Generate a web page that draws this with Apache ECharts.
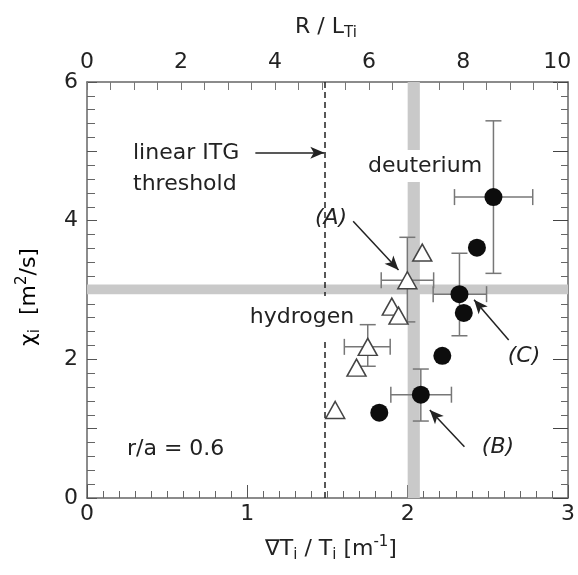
<!DOCTYPE html>
<html>
<head>
<meta charset="utf-8">
<script src="https://cdn.jsdelivr.net/npm/echarts@6.0.0/dist/echarts.min.js"></script>
<style>
  html, body { margin: 0; padding: 0; background: #fff; }
  #chart { width: 578px; height: 575px; }
</style>
</head>
<body>
<div id="chart"></div>
<script>
// deuterium (filled circles)
const deutX = [2.535, 2.432, 2.323, 2.35, 2.216, 2.082, 1.823];
const deutY = [4.34, 3.61, 2.94, 2.67, 2.05, 1.49, 1.23];
const deutXLo = [2.292, null, 2.159, null, null, 1.895, null];
const deutXHi = [2.780, null, 2.492, null, null, 2.273, null];
const deutYLo = [3.24, null, 2.34, null, null, 1.11, null];
const deutYHi = [5.44, null, 3.53, null, null, 1.86, null];

// hydrogen (open triangles)
const hydX = [1.998, 2.091, 1.901, 1.943, 1.751, 1.681, 1.548];
const hydY = [3.14, 3.54, 2.76, 2.63, 2.18, 1.88, 1.27];
const hydXLo = [1.835, null, null, null, 1.605, null, null];
const hydXHi = [2.162, null, null, null, 1.891, null, null];
const hydYLo = [2.54, null, null, null, 1.90, null, null];
const hydYHi = [3.76, null, null, null, 2.50, null, null];

// reference lines / bands
const itgThreshold = 1.48;
const bandX = [2.0, 2.076];
const bandY = [2.94, 3.08];

// annotation arrows [from, to] in data units
const arrowITG = [[1.05, 4.98], [1.48, 4.98]];
const arrowA = [[1.66, 3.99], [1.943, 3.29]];
const arrowB = [[2.354, 0.74], [2.138, 1.27]];
const arrowC = [[2.63, 2.28], [2.414, 2.86]];

const FONT = '"DejaVu Sans", sans-serif';
const TXT = '#222';
const AXC = '#666';

var chart = echarts.init(document.getElementById('chart'));

function errData(xs, ys, xlo, xhi, ylo, yhi) {
  return xs.map(function(x, i) {
    return [x, ys[i], xlo[i] == null ? x : xlo[i], xhi[i] == null ? x : xhi[i],
      ylo[i] == null ? ys[i] : ylo[i], yhi[i] == null ? ys[i] : yhi[i]]
  })
}

function renderErr(params, api) {
  var y = api.value(1), x = api.value(0)
  var cap = 8
  var st = { stroke: '#777', lineWidth: 1.5, fill: null }
  var kids = []
  if (api.value(2) !== api.value(3)) {
    var a = api.coord([api.value(2), y]), b = api.coord([api.value(3), y])
    kids.push({ type: 'line', shape: { x1: a[0], y1: a[1], x2: b[0], y2: b[1] }, style: st })
    kids.push({ type: 'line', shape: { x1: a[0], y1: a[1] - cap, x2: a[0], y2: a[1] + cap }, style: st })
    kids.push({ type: 'line', shape: { x1: b[0], y1: b[1] - cap, x2: b[0], y2: b[1] + cap }, style: st })
  }
  if (api.value(4) !== api.value(5)) {
    var c = api.coord([x, api.value(4)]), d = api.coord([x, api.value(5)])
    kids.push({ type: 'line', shape: { x1: c[0], y1: c[1], x2: d[0], y2: d[1] }, style: st })
    kids.push({ type: 'line', shape: { x1: c[0] - cap, y1: c[1], x2: c[0] + cap, y2: c[1] }, style: st })
    kids.push({ type: 'line', shape: { x1: d[0] - cap, y1: d[1], x2: d[0] + cap, y2: d[1] }, style: st })
  }
  return { type: 'group', children: kids }
}

function arrowLine(p) {
  return [{ coord: p[0], symbol: 'none' }, { coord: p[1], symbol: 'arrow' }]
}

function txt(x, y, text, extra) {
  var style = Object.assign({
    text: text, x: 0, y: 0, font: '22px ' + FONT, fill: TXT,
    textAlign: 'left', align: 'left', textVerticalAlign: 'middle', verticalAlign: 'middle'
  }, extra || {})
  return { type: 'text', x: x, y: y, z: 100, silent: true, style: style }
}

var tickLabel = { fontSize: 22, color: TXT, fontFamily: FONT }
var axLine = { show: true, onZero: false, lineStyle: { color: AXC, width: 1.5 } }

var subRich = {
  m: { fontSize: 22, fontFamily: FONT, color: TXT, lineHeight: 28 },
  s: { fontSize: 15, fontFamily: FONT, color: TXT, lineHeight: 14, verticalAlign: 'bottom' },
  p: { fontSize: 15, fontFamily: FONT, color: TXT, lineHeight: 14, verticalAlign: 'top' }
}

chart.setOption({
  animation: false,
  backgroundColor: '#fff',
  grid: { left: 87, right: 5, top: 82, bottom: 77, containLabel: false },
  xAxis: [{
    type: 'value', position: 'bottom', min: 0, max: 3, interval: 1,
    axisLine: axLine,
    axisTick: { show: true, inside: true, length: 13, lineStyle: { color: '#555', width: 1 } },
    minorTick: { show: true, splitNumber: 10, length: 7, lineStyle: { color: '#666', width: 1 } },
    splitLine: { show: false },
    axisLabel: Object.assign({ margin: 5 }, tickLabel)
  }, {
    type: 'value', position: 'top', min: 0, max: 10.23, interval: 0.5,
    axisLine: axLine,
    axisTick: { show: true, inside: true, length: 8, lineStyle: { color: '#777', width: 1 } },
    splitLine: { show: false },
    axisLabel: Object.assign({
      margin: 9, showMaxLabel: true,
      formatter: function(v) { return Math.abs(v / 2 - Math.round(v / 2)) < 1e-6 ? String(Math.round(v)) : '' }
    }, tickLabel)
  }],
  yAxis: [{
    type: 'value', position: 'left', min: 0, max: 6, interval: 1,
    axisLine: axLine,
    axisTick: { show: true, inside: true, length: 10, lineStyle: { color: '#555', width: 1 } },
    minorTick: { show: true, splitNumber: 5, length: 8, lineStyle: { color: '#666', width: 1 } },
    splitLine: { show: false },
    axisLabel: Object.assign({
      margin: 9,
      formatter: function(v) { return Math.round(v) % 2 === 0 ? String(Math.round(v)) : '' }
    }, tickLabel)
  }, {
    type: 'value', position: 'right', min: 0, max: 6, interval: 1,
    axisLine: axLine,
    axisTick: { show: true, inside: true, length: 15, lineStyle: { color: '#444', width: 1 } },
    minorTick: { show: true, splitNumber: 5, length: 7, lineStyle: { color: '#666', width: 1 } },
    splitLine: { show: false },
    axisLabel: { show: false }
  }],
  series: [{
    // error bars, deuterium
    type: 'custom', xAxisIndex: 0, yAxisIndex: 0, z: 3, silent: true,
    renderItem: renderErr,
    encode: { x: 0, y: 1 },
    data: errData(deutX, deutY, deutXLo, deutXHi, deutYLo, deutYHi)
  }, {
    // error bars, hydrogen
    type: 'custom', xAxisIndex: 0, yAxisIndex: 0, z: 3, silent: true,
    renderItem: renderErr,
    encode: { x: 0, y: 1 },
    data: errData(hydX, hydY, hydXLo, hydXHi, hydYLo, hydYHi)
  }, {
    name: 'hydrogen', type: 'scatter', xAxisIndex: 0, yAxisIndex: 0, z: 4, silent: true,
    symbol: 'triangle', symbolSize: [19, 17],
    itemStyle: { color: '#fff', borderColor: '#444', borderWidth: 1.5, opacity: 1 },
    data: hydX.map(function(x, i) { return [x, hydY[i]] }),
    markArea: {
      silent: true,
      itemStyle: { color: '#c9c9c9' },
      data: [
        [{ xAxis: bandX[0] }, { xAxis: bandX[1] }],
        [{ yAxis: bandY[0] }, { yAxis: bandY[1] }]
      ]
    },
    markLine: {
      silent: true, symbol: 'none', label: { show: false },
      lineStyle: { color: '#222', width: 1.5, type: [6, 4] },
      data: [{ xAxis: itgThreshold }]
    }
  }, {
    name: 'deuterium', type: 'scatter', xAxisIndex: 0, yAxisIndex: 0, z: 5, silent: true,
    symbol: 'circle', symbolSize: 18,
    itemStyle: { color: '#0d0d0d', opacity: 1 },
    data: deutX.map(function(x, i) { return [x, deutY[i]] }),
    markLine: {
      silent: true, symbolSize: [9, 14], label: { show: false },
      lineStyle: { color: '#222', width: 1.5, type: 'solid' },
      data: [arrowLine(arrowITG), arrowLine(arrowA), arrowLine(arrowB), arrowLine(arrowC)]
    }
  }],
  graphic: [
    txt(133, 153, 'linear ITG'),
    txt(133, 184, 'threshold'),
    txt(425, 166, 'deuterium', { textAlign: 'center', align: 'center', backgroundColor: '#fff', padding: [5, 3] }),
    txt(302, 317, 'hydrogen', { textAlign: 'center', align: 'center', backgroundColor: '#fff', padding: [10, 3] }),
    txt(331, 218, '(A)', { textAlign: 'center', align: 'center', font: 'italic 22px ' + FONT }),
    txt(524, 356, '(C)', { textAlign: 'center', align: 'center', font: 'italic 22px ' + FONT }),
    txt(498, 447, '(B)', { textAlign: 'center', align: 'center', font: 'italic 22px ' + FONT }),
    txt(127, 449, 'r/a = 0.6'),
    txt(326, 27, '{m|R / L}{s|Ti}', { textAlign: 'center', align: 'center', rich: subRich }),
    txt(331, 549, '{m|\u2207T}{s|i}{m| / T}{s|i}{m| [m}{p|-1}{m|]}', { textAlign: 'center', align: 'center', rich: subRich }),
    {
      type: 'text', x: 29, y: 297, rotation: Math.PI / 2, z: 100, silent: true,
      style: {
        text: '{m|\u03c7}{s|i}{m|  [m}{p|2}{m|/s]}', x: 0, y: 0, rich: subRich,
        textAlign: 'center', align: 'center', textVerticalAlign: 'middle', verticalAlign: 'middle'
      }
    }
  ]
})
</script>
</body>
</html>
